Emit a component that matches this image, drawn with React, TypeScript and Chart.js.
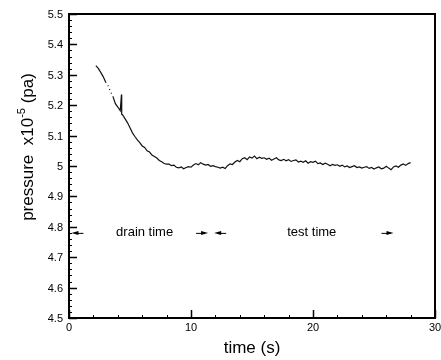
import React, { useEffect, useRef } from "react";
import { Chart, registerables } from "chart.js";

Chart.register(...registerables);

// ---- data ----
const timeS = [
  2.2, 2.4, 2.6, 2.8, 3.0, 3.2, 3.4, 3.6, 3.8, 4.0,
  4.2, 4.3, 4.32, 4.4, 4.6, 4.8, 5.0, 5.2, 5.4, 5.6, 5.8, 6.0,
  6.2, 6.4, 6.6, 6.8, 7.0, 7.2, 7.4, 7.6, 7.8, 8.0,
  8.2, 8.4, 8.6, 8.8, 9.0, 9.2, 9.4, 9.6, 9.8, 10.0,
  10.2, 10.4, 10.6, 10.8, 11.0, 11.2, 11.4, 11.6, 11.8, 12.0,
  12.2, 12.4, 12.6, 12.8, 13.0, 13.2, 13.4, 13.6, 13.8, 14.0,
  14.2, 14.4, 14.6, 14.8, 15.0, 15.2, 15.4, 15.6, 15.8, 16.0,
  16.2, 16.4, 16.6, 16.8, 17.0, 17.2, 17.4, 17.6, 17.8, 18.0,
  18.2, 18.4, 18.6, 18.8, 19.0, 19.2, 19.4, 19.6, 19.8, 20.0,
  20.2, 20.4, 20.6, 20.8, 21.0, 21.2, 21.4, 21.6, 21.8, 22.0,
  22.2, 22.4, 22.6, 22.8, 23.0, 23.2, 23.4, 23.6, 23.8, 24.0,
  24.2, 24.4, 24.6, 24.8, 25.0, 25.2, 25.4, 25.6, 25.8, 26.0,
  26.2, 26.4, 26.6, 26.8, 27.0, 27.2, 27.4, 27.6, 27.8, 28.0,
];

const pressure = [
  5.330, 5.321, 5.308, 5.294, 5.276, 5.264, 5.245, 5.229, 5.205, 5.194,
  5.182, 5.235, 5.170, 5.168, 5.155, 5.142, 5.126, 5.109, 5.097, 5.086, 5.077, 5.066,
  5.061, 5.050, 5.046, 5.036, 5.031, 5.026, 5.018, 5.014, 5.008, 5.006,
  5.006, 5.001, 5.003, 4.996, 4.994, 4.997, 4.991, 4.995, 4.998, 4.996,
  5.003, 5.008, 5.004, 5.011, 5.006, 5.003, 5.005, 4.999, 5.001, 4.998,
  4.996, 4.993, 4.996, 4.992, 5.001, 5.007, 5.005, 5.013, 5.018, 5.014,
  5.024, 5.027, 5.021, 5.030, 5.026, 5.033, 5.024, 5.029, 5.025, 5.027,
  5.022, 5.026, 5.019, 5.023, 5.027, 5.020, 5.018, 5.022, 5.017, 5.021,
  5.015, 5.018, 5.020, 5.013, 5.016, 5.012, 5.017, 5.009, 5.014, 5.012,
  5.016, 5.008, 5.010, 5.005, 5.009, 5.006, 5.001, 5.005, 5.002, 5.004,
  4.999, 5.003, 4.997, 5.000, 4.995, 4.998, 5.001, 4.995, 4.997, 4.993,
  4.996, 4.998, 4.992, 4.995, 4.990, 4.994, 4.997, 4.991, 4.993, 4.999,
  4.993, 4.988, 4.997, 5.000, 4.996, 5.003, 5.007, 5.002, 5.008, 5.011,
];

const xMajorTicks = [0, 10, 20, 30];
const xTickLabels = ["0", "10", "20", "30"];
const xMinorTicks = [2, 4, 6, 8, 12, 14, 16, 18, 22, 24, 26, 28];
const yMajorTicks = [4.5, 4.6, 4.7, 4.8, 4.9, 5.0, 5.1, 5.2, 5.3, 5.4, 5.5];
const yTickLabels = ["4.5", "4.6", "4.7", "4.8", "4.9", "5", "5.1", "5.2", "5.3", "5.4", "5.5"];
const yMinorTicks = [
  4.52, 4.54, 4.56, 4.58, 4.62, 4.64, 4.66, 4.68, 4.72, 4.74, 4.76, 4.78,
  4.82, 4.84, 4.86, 4.88, 4.92, 4.94, 4.96, 4.98, 5.02, 5.04, 5.06, 5.08,
  5.12, 5.14, 5.16, 5.18, 5.22, 5.24, 5.26, 5.28, 5.32, 5.34, 5.36, 5.38,
  5.42, 5.44, 5.46, 5.48,
];

// annotations: phase labels and arrowheads (time, direction)
const phaseLabels = ["drain time", "test time"];
const phaseLabelTimes = [6.2, 19.9];
const annotationLevel = 4.78;
const arrowTips = [0.2, 11.4, 11.9, 26.6];
const arrowDirs = [-1, 1, -1, 1];
// sparse (dotted) stretch of the early record
const sparseFrom = 2.9;
const sparseTo = 3.7;

const FONT = "'Liberation Sans', Arial, Helvetica, sans-serif";

const decorPlugin = {
  id: "decor",
  afterDraw(chart: any) {
    const { ctx, chartArea } = chart;
    const { left, right, top, bottom } = chartArea;
    const xs = chart.scales.x;
    const ys = chart.scales.y;
    ctx.save();
    ctx.strokeStyle = "#000";
    ctx.fillStyle = "#000";

    // frame
    ctx.lineWidth = 2;
    ctx.strokeRect(left, top, right - left, bottom - top);

    // y ticks
    ctx.lineWidth = 1.5;
    yMajorTicks.forEach((v) => {
      const py = Math.round(ys.getPixelForValue(v)) + 0.5;
      ctx.beginPath();
      ctx.moveTo(left, py);
      ctx.lineTo(left + 8, py);
      ctx.stroke();
    });
    ctx.lineWidth = 1;
    yMinorTicks.forEach((v) => {
      const py = Math.round(ys.getPixelForValue(v)) + 0.5;
      ctx.beginPath();
      ctx.moveTo(left, py);
      ctx.lineTo(left + 3, py);
      ctx.stroke();
    });
    // x ticks
    ctx.lineWidth = 1.5;
    xMajorTicks.forEach((v) => {
      const px = Math.round(xs.getPixelForValue(v)) + 0.5;
      ctx.beginPath();
      ctx.moveTo(px, bottom);
      ctx.lineTo(px, bottom - 8);
      ctx.stroke();
    });
    ctx.lineWidth = 1;
    xMinorTicks.forEach((v) => {
      const px = Math.round(xs.getPixelForValue(v)) + 0.5;
      ctx.beginPath();
      ctx.moveTo(px, bottom);
      ctx.lineTo(px, bottom - 3);
      ctx.stroke();
    });

    // tick labels
    ctx.font = `11px ${FONT}`;
    ctx.textAlign = "right";
    ctx.textBaseline = "middle";
    yMajorTicks.forEach((v, i) => {
      ctx.fillText(yTickLabels[i], left - 6, ys.getPixelForValue(v) + 1);
    });
    ctx.textAlign = "center";
    ctx.textBaseline = "top";
    xMajorTicks.forEach((v, i) => {
      ctx.fillText(xTickLabels[i], xs.getPixelForValue(v), bottom + 4);
    });

    // x title
    ctx.font = `17px ${FONT}`;
    ctx.textBaseline = "middle";
    ctx.fillText("time (s)", (left + right) / 2, 348);

    // y title with superscript
    ctx.save();
    ctx.translate(33, 147);
    ctx.rotate(-Math.PI / 2);
    const big = `17px ${FONT}`;
    const small = `11px ${FONT}`;
    const p1 = "pressure  x10";
    const p2 = "-5";
    const p3 = " (pa)";
    ctx.font = big;
    const w1 = ctx.measureText(p1).width;
    const w3 = ctx.measureText(p3).width;
    ctx.font = small;
    const w2 = ctx.measureText(p2).width;
    const total = w1 + w2 + w3;
    let cx = -total / 2;
    ctx.textAlign = "left";
    ctx.textBaseline = "alphabetic";
    ctx.font = big;
    ctx.fillText(p1, cx, 0);
    cx += w1;
    ctx.font = small;
    ctx.fillText(p2, cx, -8);
    cx += w2;
    ctx.font = big;
    ctx.fillText(p3, cx, 0);
    ctx.restore();

    // annotations
    const ay = ys.getPixelForValue(annotationLevel);
    ctx.font = `13px ${FONT}`;
    ctx.textAlign = "center";
    ctx.textBaseline = "middle";
    phaseLabels.forEach((t, i) => {
      ctx.fillText(t, xs.getPixelForValue(phaseLabelTimes[i]), ay);
    });
    arrowTips.forEach((t, i) => {
      const tip = xs.getPixelForValue(t);
      const d = arrowDirs[i];
      ctx.beginPath();
      ctx.moveTo(tip, ay);
      ctx.lineTo(tip - d * 7, ay - 2);
      ctx.lineTo(tip - d * 7, ay + 2);
      ctx.closePath();
      ctx.fill();
      ctx.lineWidth = 1;
      ctx.beginPath();
      ctx.moveTo(tip - d * 6, ay + 0.5);
      ctx.lineTo(tip - d * 12, ay + 0.5);
      ctx.stroke();
    });

    ctx.restore();
  },
};

export default function App() {
  const ref = useRef<HTMLCanvasElement | null>(null);
  useEffect(() => {
    document.body.style.margin = "0";
    const canvas = ref.current;
    if (!canvas) return;
    const chart = new Chart(canvas, {
      type: "line",
      data: {
        datasets: [
          {
            data: timeS.map((t, i) => ({ x: t, y: pressure[i] })),
            borderColor: "#111",
            borderWidth: 1.2,
            pointRadius: 0,
            tension: 0,
            fill: false,
            segment: {
              borderDash: (c: any) =>
                c.p0.parsed.x >= sparseFrom && c.p1.parsed.x <= sparseTo ? [1, 3] : undefined,
            },
          },
        ],
      },
      options: {
        responsive: false,
        animation: false,
        devicePixelRatio: 1,
        layout: { padding: { left: 69, right: 6, top: 14, bottom: 42 } },
        plugins: { legend: { display: false }, tooltip: { enabled: false } },
        scales: {
          x: { type: "linear", min: 0, max: 30, display: false },
          y: { type: "linear", min: 4.5, max: 5.5, display: false },
        },
      },
      plugins: [decorPlugin],
    });
    return () => chart.destroy();
  }, []);
  return (
    <canvas
      ref={ref}
      width={441}
      height={360}
      style={{ display: "block", width: 441, height: 360 }}
    />
  );
}
